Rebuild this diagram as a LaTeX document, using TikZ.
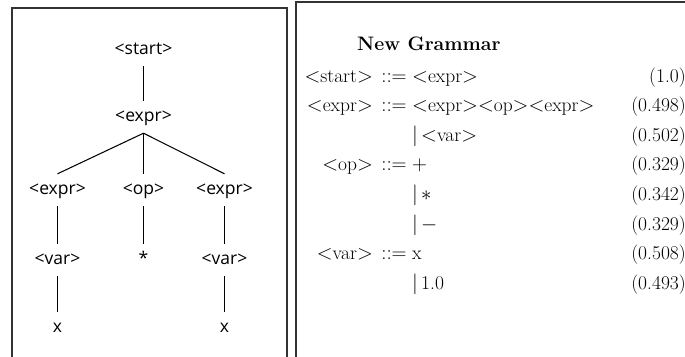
\documentclass[tikz,border=0pt]{standalone}
\usepackage{fontspec}
\newfontfamily\treefont{Open Sans}
\begin{document}
\begin{tikzpicture}[x=1pt,y=-1pt,
  tn/.style={font=\treefont\fontsize{17.5}{20}\selectfont, inner sep=0pt,
             minimum height=32pt, text height=13pt, text depth=4pt},
  tl/.style={line width=1.05pt, black},
  panel/.style={draw=black!80, line width=1.4pt},
  gram/.style={font=\fontsize{19.5}{23}\selectfont, inner sep=0pt}]
\useasboundingbox (0,0) rectangle (685,356);
% panels
\draw[panel] (12,370) -- (12,8) -- (287,8) -- (287,370);
\draw[panel] (296,370) -- (296,2) -- (700,2);
% derivation tree
\node[tn] (s)  at (143.5,50)  {<start>};
\node[tn] (e)  at (143.5,117) {<expr>};
\node[tn] (e1) at (57.5,190)  {<expr>};
\node[tn] (o)  at (143.5,190) {<op>};
\node[tn] (e2) at (224.5,190) {<expr>};
\node[tn] (v1) at (57.5,260)  {<var>};
\node[tn] (st) at (143.5,260) {*};
\node[tn] (v2) at (224.5,260) {<var>};
\node[tn] (x1) at (57.5,328)  {x};
\node[tn] (x2) at (224.5,328) {x};
\draw[tl] (s) -- (e);
\draw[tl] (e.south) -- (e1.north);
\draw[tl] (e.south) -- (o.north);
\draw[tl] (e.south) -- (e2.north);
\draw[tl] (e1) -- (v1);
\draw[tl] (o) -- (st);
\draw[tl] (e2) -- (v2);
\draw[tl] (v1) -- (x1);
\draw[tl] (v2) -- (x2);
% grammar
\node[gram, anchor=base west] (title) at (357,50) {\bfseries New Grammar};
% row 1
\node[gram, anchor=base east] (l1) at (373,82) {$<$start$>$};
\node[gram, anchor=base] (d1) at (394,82) {$::=$};
\node[gram, anchor=base west] (r1) at (412,82) {$<$expr$>$};
\node[gram, anchor=base east] (p1) at (686,82) {(1.0)};
% row 2
\node[gram, anchor=base east] (l2) at (373,111.6) {$<$expr$>$};
\node[gram, anchor=base] (d2) at (394,111.6) {$::=$};
\node[gram, anchor=base west] (r2) at (412,111.6) {$<$expr$><$op$><$expr$>$};
\node[gram, anchor=base east] (p2) at (686,111.6) {(0.498)};
% row 3
\node[gram, anchor=base west] (r3) at (412,141.2) {$|$\,$<$var$>$};
\node[gram, anchor=base east] (p3) at (686,141.2) {(0.502)};
% row 4
\node[gram, anchor=base east] (l4) at (373,170.8) {$<$op$>$};
\node[gram, anchor=base] (d4) at (394,170.8) {$::=$};
\node[gram, anchor=base west] (r4) at (412,170.8) {$+$};
\node[gram, anchor=base east] (p4) at (686,170.8) {(0.329)};
% row 5
\node[gram, anchor=base west] (r5) at (412,200.4) {$|$\,$*$};
\node[gram, anchor=base east] (p5) at (686,200.4) {(0.342)};
% row 6
\node[gram, anchor=base west] (r6) at (412,230) {$|$\,$-$};
\node[gram, anchor=base east] (p6) at (686,230) {(0.329)};
% row 7
\node[gram, anchor=base east] (l7) at (373,259.6) {$<$var$>$};
\node[gram, anchor=base] (d7) at (394,259.6) {$::=$};
\node[gram, anchor=base west] (r7) at (412,259.6) {x};
\node[gram, anchor=base east] (p7) at (686,259.6) {(0.508)};
% row 8
\node[gram, anchor=base west] (r8) at (412,289.2) {$|$\,1.0};
\node[gram, anchor=base east] (p8) at (686,289.2) {(0.493)};
\end{tikzpicture}
\end{document}
